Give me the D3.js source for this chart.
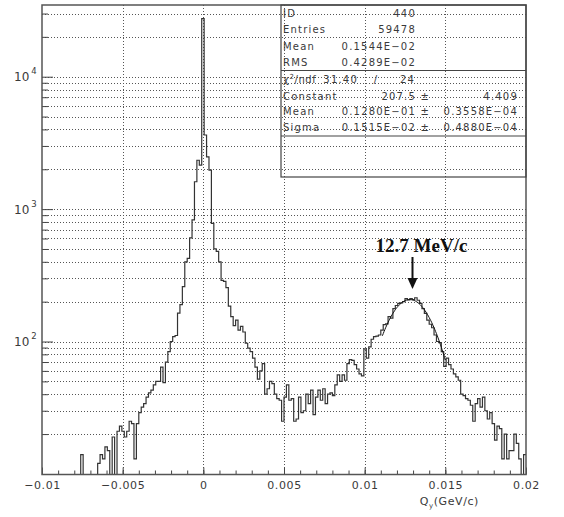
<!DOCTYPE html>
<html>
<head>
<meta charset="utf-8">
<script src="https://cdn.jsdelivr.net/npm/d3@7"></script>
<style>
  body { margin: 0; background: #fff; }
  svg { display: block; }
  text { font-family: "DejaVu Sans", sans-serif; fill: #3a3a3a; }
</style>
</head>
<body>
<svg id="chart" width="564" height="517"></svg>
<script>
// histogram ID 440: 200 bins of 0.00015 GeV/c between -0.01 and 0.02
const xMin = -0.01, xMax = 0.02, binWidth = 0.00015;
const counts = [
  3, 4, 2, 5, 3, 6, 4, 5, 7, 4, 6, 5, 8, 6, 7, 9,
  14, 7, 9, 6, 8, 9, 7, 12, 14, 13, 16, 15, 8, 19,
  9, 21, 23, 21, 19, 21, 25, 24, 13, 24, 29, 32, 34, 38, 41, 43, 47, 50, 50, 64,
  49, 70, 84, 100, 109, 111, 164, 190, 260, 400, 424, 606, 830, 1610, 2340, 2150, 27500, 3630, 2480, 1970,
  780, 500, 480, 400, 290, 285, 255, 185, 154, 132, 145, 122, 130, 118, 97, 89, 84, 75, 64, 52,
  60, 68, 40, 44, 50, 48, 40, 37, 36, 25, 38, 47, 36, 37, 25, 26, 38, 29, 30, 40,
  34, 43, 28, 38, 43, 36, 44, 34, 40, 41, 39, 47, 56, 50, 56, 51, 68, 73, 72, 67,
  62, 57, 55, 88, 75, 91, 104, 109, 110, 112, 122, 134, 136, 154, 150, 177, 187, 194, 196, 200,
  211, 206, 211, 207, 214, 205, 194, 177, 163, 145, 135, 127, 112, 100, 98, 84, 65, 75, 67, 62,
  57, 54, 51, 40, 39, 37, 36, 33, 25, 34, 37, 32, 38, 30, 26, 29, 24, 18, 23, 22,
  13, 20, 13, 15, 15, 20, 17, 13, 8, 14
];

const xTicks = [-0.01, -0.005, 0, 0.005, 0.01, 0.015, 0.02];
const xTickLabels = ["\u22120.01", "\u22120.005", "0", "0.005", "0.01", "0.015", "0.02"];
const yDecades = [100, 1000, 10000];
const yExponents = ["2", "3", "4"];

// gaussian fit shown in the stat box
const fitConstant = 207.5, fitMean = 0.0128, fitSigma = 0.001515;
const fitRange = [0.0111, 0.0150];

const statsLabels = ["ID", "Entries", "Mean", "RMS"];
const statsValues = ["440", "59478", "0.1544E\u221202", "0.4289E\u221202"];
const fitLabels = ["Constant", "Mean", "Sigma"];
const fitValues = ["207.5 \u00b1", "0.1280E\u221201 \u00b1", "0.1515E\u221202 \u00b1"];
const fitErrors = ["4.409", "0.3558E\u221204", "0.4880E\u221204"];

const plot = { left: 42, right: 526, top: 5, bottom: 474.5 };

const svg = d3.select("#chart");
const x = d3.scaleLinear().domain([xMin, xMax]).range([plot.left, plot.right]);
const y = d3.scaleLog().domain([9.9, 34800]).range([plot.bottom, plot.top]);

// minor log values 20..90, 200..900, ...
const yMinor = [];
[10, 100, 1000, 10000].forEach(d => {
  for (let m = 2; m <= 9; m++) {
    const v = m * d;
    if (v < y.domain()[1]) yMinor.push(v);
  }
});

// dotted grid
const grid = svg.append("g")
  .attr("stroke", "#555")
  .attr("stroke-width", 1)
  .attr("stroke-dasharray", "1,2");

grid.selectAll(".hg")
  .data(yDecades.concat(yMinor))
  .enter()
  .append("line")
  .attr("x1", plot.left)
  .attr("x2", plot.right)
  .attr("y1", d => Math.round(y(d)) + 0.5)
  .attr("y2", d => Math.round(y(d)) + 0.5);

grid.selectAll(".vg")
  .data(xTicks.slice(1, -1))
  .enter()
  .append("line")
  .attr("x1", d => Math.round(x(d)) + 0.5)
  .attr("x2", d => Math.round(x(d)) + 0.5)
  .attr("y1", plot.top)
  .attr("y2", plot.bottom);

// x axis, ticks point inward
const xAxis = svg.append("g")
  .attr("transform", `translate(0, ${plot.bottom})`)
  .call(d3.axisBottom(x).tickValues(xTicks).tickSize(-7).tickPadding(7)
    .tickFormat((d, i) => xTickLabels[i]));
svg.append("g")
  .attr("transform", `translate(0, ${plot.bottom})`)
  .call(d3.axisBottom(x).tickValues(d3.range(-9, 20).map(i => i / 1000)).tickSize(-4).tickFormat(""));

// y axis
svg.append("g")
  .attr("transform", `translate(${plot.left}, 0)`)
  .call(d3.axisLeft(y).tickValues(yDecades).tickSize(-11).tickFormat(""));
svg.append("g")
  .attr("transform", `translate(${plot.left}, 0)`)
  .call(d3.axisLeft(y).tickValues(yMinor).tickSize(-6).tickFormat(""));

svg.selectAll(".domain").remove();
svg.selectAll(".tick line").attr("stroke", "#444");
xAxis.selectAll("text")
  .attr("font-size", 11)
  .attr("letter-spacing", 0.6)
  .attr("fill", "#3a3a3a");

const yLab = svg.append("g");
yDecades.forEach((d, i) => {
  const t = yLab.append("text")
    .attr("x", 14)
    .attr("y", y(d) + 4.5)
    .attr("font-size", 12);
  t.append("tspan").text("10");
  t.append("tspan").attr("dx", 2).attr("dy", -7).attr("font-size", 8.5).text(yExponents[i]);
});

// histogram outline
svg.append("clipPath").attr("id", "plotclip")
  .append("rect")
  .attr("x", plot.left).attr("y", plot.top)
  .attr("width", plot.right - plot.left).attr("height", plot.bottom - plot.top);

const yc = v => Math.min(plot.bottom, y(Math.max(v, 1)));
const pts = counts.map((c, i) => [x(xMin + i * binWidth), yc(c)]);
pts.push([x(xMax), yc(counts[counts.length - 1])]);

svg.append("path")
  .attr("clip-path", "url(#plotclip)")
  .attr("d", d3.line().curve(d3.curveStepAfter)(pts))
  .attr("fill", "none")
  .attr("stroke", "#333")
  .attr("stroke-width", 1.2);

// fit curve
const fitPts = d3.range(fitRange[0], fitRange[1] + 1e-9, 0.00005).map(v => [
  x(v),
  y(fitConstant * Math.exp(-0.5 * Math.pow((v - fitMean) / fitSigma, 2)))
]);
svg.append("path")
  .attr("d", d3.line()(fitPts))
  .attr("fill", "none")
  .attr("stroke", "#111")
  .attr("stroke-width", 1);

// frame
svg.append("rect")
  .attr("x", plot.left).attr("y", plot.top)
  .attr("width", plot.right - plot.left).attr("height", plot.bottom - plot.top)
  .attr("fill", "none")
  .attr("stroke", "#555")
  .attr("stroke-width", 1.5);

// stat box
const box = { left: 281, right: plot.right, top: plot.top, bottom: 177 };
const sb = svg.append("g");
sb.append("rect")
  .attr("x", box.left).attr("y", box.top)
  .attr("width", box.right - box.left).attr("height", box.bottom - box.top)
  .attr("fill", "none").attr("stroke", "#444").attr("stroke-width", 1.2);
[70.5, 136].forEach(yy => {
  sb.append("line")
    .attr("x1", box.left).attr("x2", box.right)
    .attr("y1", yy).attr("y2", yy)
    .attr("stroke", "#444").attr("stroke-width", 1.2);
});

const st = (txt, xx, yy, anchor) => sb.append("text")
  .attr("x", xx).attr("y", yy)
  .attr("text-anchor", anchor || "start")
  .attr("font-size", 10)
  .attr("letter-spacing", 1.2)
  .text(txt);

const topRows = [17, 33, 49.5, 65.5];
statsLabels.forEach((l, i) => {
  st(l, 283, topRows[i]);
  st(statsValues[i], 416, topRows[i], "end");
});

const chi = sb.append("text").attr("x", 283).attr("y", 83).attr("font-size", 10).attr("letter-spacing", 0.6);
chi.append("tspan").text("\u03c7");
chi.append("tspan").attr("dy", -4).attr("font-size", 7).text("2");
chi.append("tspan").attr("dy", 4).text("/ndf");
st("31.40", 358, 83, "end");
st("/", 376, 83, "middle");
st("24", 415, 83, "end");

const fitRows = [99.5, 115, 130.5];
fitLabels.forEach((l, i) => {
  st(l, 283, fitRows[i]);
  st(fitValues[i], 430, fitRows[i], "end");
  st(fitErrors[i], 518, fitRows[i], "end");
});

// x title
const xt = svg.append("text")
  .attr("x", 479).attr("y", 505)
  .attr("text-anchor", "end")
  .attr("font-size", 11)
  .attr("letter-spacing", 0.6);
xt.append("tspan").text("Q");
xt.append("tspan").attr("dy", 3).attr("font-size", 7).text("y");
xt.append("tspan").attr("dy", -3).text("(GeV/c)");

// annotation
svg.append("text")
  .attr("x", 421.5).attr("y", 252)
  .attr("text-anchor", "middle")
  .style("font-family", "'Liberation Serif', 'Times New Roman', serif")
  .style("font-weight", "bold")
  .style("font-size", "19px")
  .style("fill", "#111")
  .text("12.7 MeV/c");

svg.append("line")
  .attr("x1", 412.5).attr("x2", 412.5)
  .attr("y1", 257).attr("y2", 280)
  .attr("stroke", "#111").attr("stroke-width", 2);
svg.append("path")
  .attr("d", "M407.5,278 L417.5,278 L412.5,289 Z")
  .attr("fill", "#111");
</script>
</body>
</html>
